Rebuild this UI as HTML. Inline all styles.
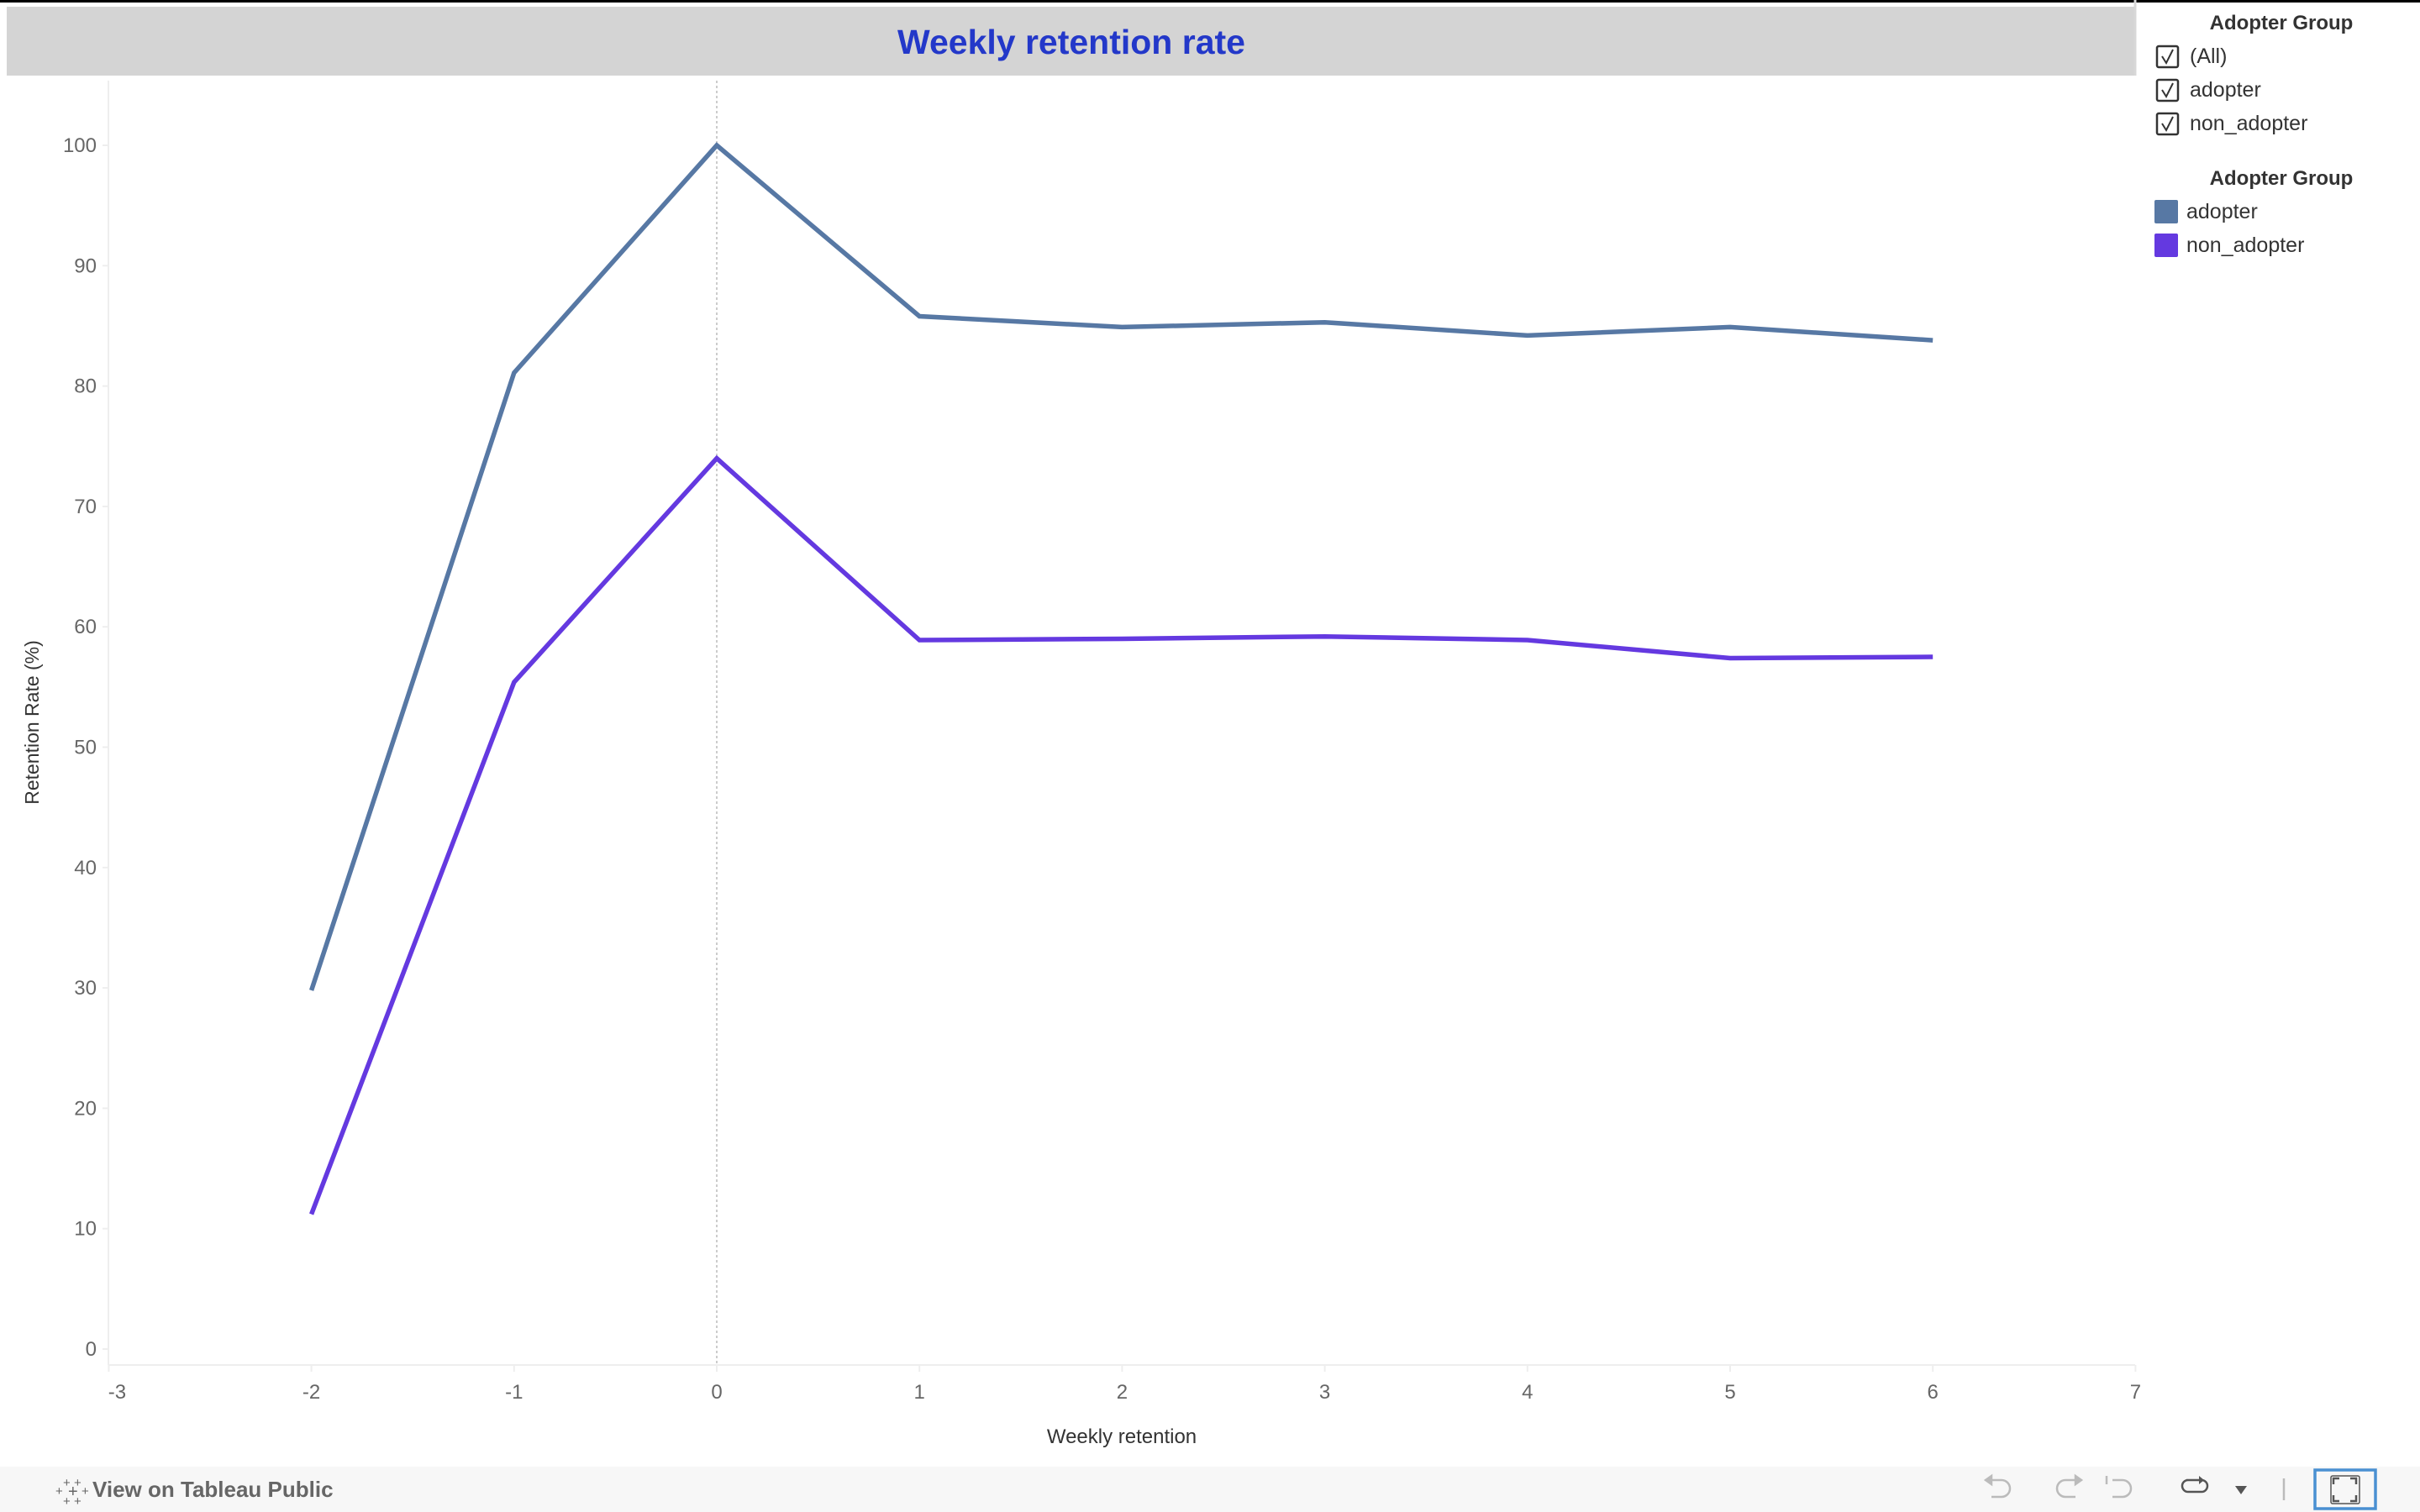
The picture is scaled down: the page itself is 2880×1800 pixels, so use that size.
<!DOCTYPE html>
<html><head><meta charset="utf-8">
<style>
html,body{margin:0;padding:0;background:#fff;width:2880px;height:1800px;overflow:hidden;font-family:"Liberation Sans",sans-serif;}
svg text{font-family:"Liberation Sans",sans-serif;}
</style></head>
<body>
<svg id="chart" width="2880" height="1800" viewBox="0 0 2880 1800" xmlns="http://www.w3.org/2000/svg">
<rect x="0" y="0" width="2880" height="3" fill="#000"/>
<rect x="8" y="8" width="2532" height="82" fill="#d4d4d4"/>
<text x="1275" y="64" text-anchor="middle" font-size="41" font-weight="bold" fill="#2338c9">Weekly retention rate</text>
<line x1="2541" y1="0" x2="2541" y2="90" stroke="#d8d8d8" stroke-width="3"/>
<g id="axes"></g>
<g id="series"></g>
<text transform="translate(46,860) rotate(-90)" text-anchor="middle" font-size="23" fill="#333">Retention Rate (%)</text>
<text x="1335" y="1718" text-anchor="middle" font-size="24" fill="#333">Weekly retention</text>

<g>
<text x="2715" y="35" text-anchor="middle" font-size="24" font-weight="bold" fill="#333">Adopter Group</text>
<g><rect x="2567" y="55" width="25" height="25" rx="2" fill="#fff" stroke="#333" stroke-width="2.5"/><path d="M2573 67 l5 8 l8 -16" fill="none" stroke="#333" stroke-width="2"/><text x="2606" y="75" font-size="25" fill="#333">(All)</text></g>
<g><rect x="2567" y="95" width="25" height="25" rx="2" fill="#fff" stroke="#333" stroke-width="2.5"/><path d="M2573 107 l5 8 l8 -16" fill="none" stroke="#333" stroke-width="2"/><text x="2606" y="115" font-size="25" fill="#333">adopter</text></g>
<g><rect x="2567" y="135" width="25" height="25" rx="2" fill="#fff" stroke="#333" stroke-width="2.5"/><path d="M2573 147 l5 8 l8 -16" fill="none" stroke="#333" stroke-width="2"/><text x="2606" y="155" font-size="25" fill="#333">non_adopter</text></g>
</g>
<g>
<text x="2715" y="220" text-anchor="middle" font-size="24" font-weight="bold" fill="#333">Adopter Group</text>
<rect x="2564" y="238" width="28" height="28" rx="2" fill="#5778a4"/>
<text x="2602" y="260" font-size="25" fill="#333">adopter</text>
<rect x="2564" y="278" width="28" height="28" rx="2" fill="#6439e0"/>
<text x="2602" y="300" font-size="25" fill="#333">non_adopter</text>
</g>

<rect x="0" y="1746" width="2880" height="54" fill="#f7f7f7"/>
<g>
<g fill="#666" font-size="15"><text x="75" y="1770">+</text><text x="88" y="1770">+</text><text x="66" y="1780">+</text><text x="81" y="1782" font-size="20">+</text><text x="97" y="1780">+</text><text x="75" y="1792">+</text><text x="88" y="1792">+</text></g>
<text x="110" y="1782" font-size="26" font-weight="bold" fill="#666">View on Tableau Public</text>
</g>
<g fill="none" stroke="#bbb" stroke-width="2.5">
<path d="M2370 1762 h12 a10 10 0 0 1 0 20 h-12"/><path d="M2363 1762 l7 -5 v10 z" fill="#bbb"/>
<path d="M2470 1762 h-12 a10 10 0 0 0 0 20 h12"/><path d="M2477 1762 l-7 -5 v10 z" fill="#bbb"/>
<path d="M2514 1762 h12 a10 10 0 0 1 0 20 h-12"/><line x1="2507" y1="1757" x2="2507" y2="1767"/>
<line x1="2718" y1="1760" x2="2718" y2="1786"/>
</g>
<path d="M2602 1762 h18 a7 7 0 0 1 0 14 h-16 a7 7 0 0 1 0 -14" fill="none" stroke="#555" stroke-width="2.5"/>
<path d="M2617 1757 l6 5 l-6 5 z" fill="#555"/>
<path d="M2660 1769 h14 l-7 10 z" fill="#555"/>
<rect x="2755" y="1750" width="72" height="46" fill="none" stroke="#4a90d2" stroke-width="3.5"/>
<path d="M2777 1767 v-7 h7 M2797 1760 h7 v7 M2804 1780 v7 h-7 M2784 1787 h-7 v-7" fill="none" stroke="#555" stroke-width="2.5"/>
<rect x="2774" y="1757" width="34" height="33" rx="2" fill="none" stroke="#555" stroke-width="1.5"/>
</svg>
<script>
const categories = [-2, -1, 0, 1, 2, 3, 4, 5, 6];
const adopterValues = [29.8, 81.1, 100, 85.8, 84.9, 85.3, 84.2, 84.9, 83.8];
const nonAdopterValues = [11.2, 55.4, 74.0, 58.9, 59.0, 59.2, 58.9, 57.4, 57.5];
const xTicks = [-3, -2, -1, 0, 1, 2, 3, 4, 5, 6, 7];
const yTicks = [0, 10, 20, 30, 40, 50, 60, 70, 80, 90, 100];

const NS = 'http://www.w3.org/2000/svg';
const x = v => 853 + (v - 0) * 241.2;
const y = v => 1606 - v * 14.33;
const axes = document.getElementById('axes');
const series = document.getElementById('series');
function mk(tag, attrs, parent) { const e = document.createElementNS(NS, tag); for (const k in attrs) e.setAttribute(k, attrs[k]); parent.appendChild(e); return e; }

let e = mk('line', {x1: 129, y1: 96, x2: 129, y2: 1625, stroke: '#eeeeee', 'stroke-width': 2}, axes);


e = mk('line', {x1: 129, y1: 1625, x2: 2541, y2: 1625, stroke: '#eeeeee', 'stroke-width': 2}, axes);


e = mk('line', {x1: x(0), y1: 96, x2: x(0), y2: 1625, stroke: '#bbbbbb', 'stroke-width': 1.5, 'stroke-dasharray': '3,3'}, axes);



yTicks.forEach(t => {
  const l = mk('line', {x1: 122, y1: y(t), x2: 129, y2: y(t), stroke: '#eeeeee', 'stroke-width': 2}, axes);
  
  
  const tx = mk('text', {x: 115, y: y(t) + 8, 'text-anchor': 'end', 'font-size': 24, fill: '#666'}, axes);
  tx.textContent = t;
  
  
});
xTicks.forEach(t => {
  const l = mk('line', {x1: x(t), y1: 1625, x2: x(t), y2: 1633, stroke: '#eeeeee', 'stroke-width': 2}, axes);
  
  
  const tx = mk('text', {x: x(t) + (t === -3 ? 10 : 0), y: 1665, 'text-anchor': 'middle', 'font-size': 24, fill: '#666'}, axes);
  tx.textContent = t;
  
  
});

function drawLine(vals, color, name) {
  const d = vals.map((v, i) => (i ? 'L' : 'M') + x(categories[i]).toFixed(1) + ' ' + y(v).toFixed(1)).join(' ');
  const p = mk('path', {d: d, fill: 'none', stroke: color, 'stroke-width': 5.5, 'stroke-linejoin': 'miter'}, series);
  
  
}
drawLine(adopterValues, '#5778a4', 'adopter-line');
drawLine(nonAdopterValues, '#6439e0', 'non-adopter-line');
</script>
</body></html>
